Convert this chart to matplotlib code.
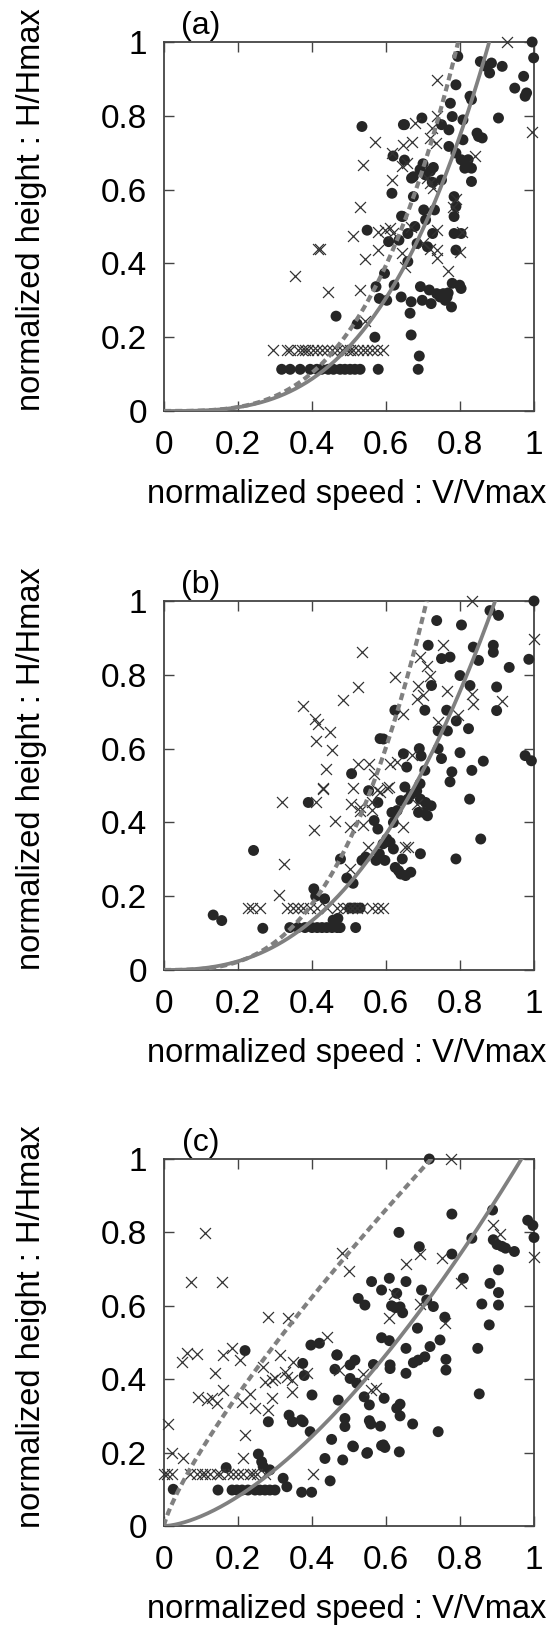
import matplotlib
matplotlib.use("Agg")
import matplotlib.pyplot as plt
import numpy as np

plt.rcParams['font.family'] = ['Liberation Sans', 'DejaVu Sans']

# ---------------- data ----------------
tick_vals = [0, 0.2, 0.4, 0.6, 0.8, 1]
tick_labels = ["0", "0.2", "0.4", "0.6", "0.8", "1"]
panel_labels = ["(a)", "(b)", "(c)"]
xlabel = "normalized speed : V/Vmax"
ylabel = "normalized height : H/Hmax"

# fitted curves: y = (x / x_at_one) ** exponent
solid_x_at_one = [0.879, 0.895, 0.966]
solid_exp = [3.1, 2.5, 1.6]
dashed_x_at_one = [0.795, 0.71, 0.722]
dashed_exp = [3.3, 3.0, 0.8]

# ---- panel (a) ----
a_dot_x = [0.318,0.341,0.368,0.395,0.413,0.426,0.444,0.458,0.476,0.489,0.503,0.516,0.530,0.579,0.687,
           0.690,0.465,0.668,0.570,0.522,0.665,
           0.535,0.549,0.573,0.582,0.602,0.596,0.607,0.616,0.619,0.622,0.635,0.641,0.650,0.650,0.645,0.659,
           0.668,0.674,0.674,0.659,0.678,0.684,0.697,0.693,0.698,0.702,0.707,0.712,0.717,0.722,0.726,0.731,
           0.737,0.746,0.750,0.750,0.755,0.765,0.770,0.770,0.774,0.777,0.779,0.784,0.789,0.784,0.784,0.789,
           0.779,0.789,0.789,0.794,0.799,0.803,0.803,0.803,0.808,0.808,0.813,0.822,0.831,0.831,0.827,0.831,
           0.846,0.850,0.860,0.855,0.870,0.880,0.885,0.904,0.914,0.948,0.972,0.976,0.980,0.995,0.999,
           0.706,0.720,0.728,0.700,0.725,0.760,0.768,0.647,0.669,0.692,0.642]
a_dot_y = [0.113,0.113,0.113,0.113,0.113,0.113,0.113,0.113,0.113,0.113,0.113,0.113,0.113,0.113,0.113,
           0.149,0.257,0.206,0.200,0.236,0.265,
           0.771,0.490,0.337,0.305,0.300,0.373,0.459,0.590,0.691,0.341,0.463,0.309,0.776,0.680,0.527,0.481,
           0.296,0.635,0.581,0.405,0.500,0.454,0.794,0.337,0.300,0.545,0.518,0.445,0.328,0.291,0.481,0.545,
           0.318,0.309,0.626,0.776,0.318,0.309,0.762,0.717,0.834,0.282,0.346,0.581,0.554,0.527,0.481,0.436,
           0.798,0.699,0.884,0.961,0.341,0.332,0.481,0.681,0.789,0.735,0.658,0.681,0.658,0.622,0.853,0.844,
           0.753,0.744,0.740,0.947,0.934,0.916,0.943,0.794,0.934,0.875,0.907,0.853,0.862,1.000,0.957,
           0.640,0.650,0.660,0.670,0.620,0.300,0.320,0.776,0.631,0.654,0.528]
a_cross_x = [0.295,0.332,0.341,0.363,0.372,0.381,0.390,0.404,0.413,0.426,0.440,0.453,0.467,0.480,0.494,
             0.503,0.512,0.525,0.539,0.548,0.561,0.575,0.593,
             0.354,0.417,0.422,0.444,0.512,0.530,0.543,0.543,0.530,0.539,0.570,0.579,0.597,0.611,0.620,
             0.579,0.615,0.615,0.642,0.656,0.647,0.669,0.642,0.650,0.678,0.710,0.719,0.728,0.720,0.736,
             0.723,0.737,0.737,0.737,0.737,0.737,0.720,0.768,0.800,0.805,0.782,0.790,0.841,0.928,0.995,
             0.700,0.668]
a_cross_y = [0.165]*23 + [
             0.366,0.440,0.440,0.322,0.474,0.328,0.412,0.245,0.554,0.668,0.729,0.486,0.490,0.495,0.482,
             0.436,0.627,0.699,0.663,0.672,0.722,0.729,0.427,0.390,0.780,0.631,0.618,0.604,0.740,0.727,
             0.767,0.799,0.898,0.490,0.436,0.414,0.440,0.380,0.432,0.486,0.554,0.575,0.690,1.000,0.757,
             0.455,0.500]

# ---- panel (b) ----
b_dot_x = [1.000,0.904,0.881,0.737,0.804,0.714,0.750,0.773,0.836,0.850,0.890,0.890,0.933,0.986,0.800,
           0.723,0.827,0.899,0.705,0.624,0.764,0.899,0.790,0.766,0.741,0.823,0.584,0.593,0.690,0.695,
           0.741,0.750,0.800,0.863,0.976,0.993,0.647,0.656,0.705,0.832,0.507,0.778,0.773,0.651,0.692,
           0.553,0.578,0.640,0.630,0.659,0.668,0.683,0.693,0.722,0.707,0.688,0.702,0.712,0.826,0.390,
           0.616,0.620,0.568,0.578,0.693,0.856,0.789,0.242,0.477,0.535,0.545,0.573,0.582,0.597,0.592,
           0.602,0.611,0.620,0.625,0.634,0.644,0.640,0.653,0.667,0.494,0.511,0.405,0.410,0.434,0.133,
           0.156,0.267,
           0.340,0.362,0.381,0.400,0.414,0.427,0.440,0.454,0.468,0.476,0.518,0.457,0.470,0.530,0.516,0.503]
b_dot_y = [1.000,0.961,0.974,0.947,0.935,0.880,0.844,0.848,0.875,0.839,0.880,0.861,0.820,0.842,0.798,
           0.771,0.771,0.767,0.704,0.704,0.704,0.703,0.675,0.648,0.648,0.654,0.627,0.626,0.600,0.580,
           0.600,0.573,0.589,0.566,0.581,0.567,0.586,0.550,0.541,0.541,0.532,0.537,0.510,0.496,0.505,
           0.486,0.454,0.459,0.432,0.463,0.476,0.485,0.463,0.445,0.454,0.427,0.427,0.418,0.463,0.454,
           0.427,0.400,0.405,0.382,0.315,0.355,0.301,0.324,0.301,0.297,0.306,0.297,0.315,0.297,0.342,
           0.355,0.346,0.328,0.278,0.269,0.301,0.260,0.256,0.265,0.249,0.235,0.220,0.200,0.193,0.149,
           0.134,0.113,
           0.115,0.115,0.115,0.115,0.115,0.115,0.115,0.115,0.115,0.115,0.115,0.135,0.140,0.168,0.168,0.168]
b_cross_x = [0.227,0.238,0.260,0.332,0.349,0.362,0.376,0.395,0.413,0.440,0.468,0.484,0.497,0.508,0.521,
             0.535,0.562,0.578,0.592,
             0.311,0.324,0.406,0.462,0.318,0.411,0.429,0.510,0.505,0.503,0.530,0.539,0.561,0.575,0.584,
             0.602,0.550,0.503,0.647,0.651,0.832,1.000,0.534,0.755,0.692,0.710,0.719,0.624,0.525,0.485,
             0.687,0.701,0.683,0.764,0.832,0.836,0.913,0.376,0.407,0.416,0.411,0.449,0.453,0.439,0.430,
             0.525,0.553,0.611,0.669,0.741,0.795,0.683,0.607,0.568,0.563,0.530,0.659,0.647,0.629]
b_cross_y = [0.168]*19 + [
             0.203,0.286,0.379,0.404,0.454,0.454,0.494,0.494,0.451,0.388,0.442,0.392,0.433,0.487,0.483,
             0.492,0.334,0.275,0.388,0.332,1.000,0.896,0.862,0.880,0.848,0.825,0.798,0.794,0.767,0.731,
             0.771,0.744,0.735,0.757,0.749,0.722,0.728,0.716,0.680,0.666,0.621,0.645,0.595,0.545,0.491,
             0.559,0.558,0.558,0.582,0.672,0.690,0.450,0.495,0.531,0.454,0.432,0.333,0.695,0.564]

# ---- panel (c) ----
c_dot_x = [0.717,0.778,0.888,0.983,0.997,1.000,0.635,0.690,0.778,0.832,0.890,0.900,0.913,0.923,0.947,
           0.904,0.525,0.543,0.561,0.588,0.609,0.629,0.654,0.696,0.710,0.728,0.809,0.881,0.904,0.904,
           0.859,0.615,0.625,0.638,0.645,0.685,0.588,0.609,0.759,0.746,0.719,0.879,0.848,0.852,0.705,
           0.687,0.674,0.762,0.762,0.654,0.654,0.611,0.611,0.566,0.397,0.420,0.375,0.379,0.468,0.462,
           0.503,0.516,0.503,0.521,0.471,0.400,0.541,0.555,0.595,0.629,0.638,0.638,0.338,0.347,0.371,
           0.376,0.282,0.395,0.489,0.489,0.555,0.559,0.585,0.672,0.741,0.453,0.510,0.550,0.588,0.597,
           0.636,0.435,0.483,0.449,0.219,0.255,0.264,0.268,0.286,0.322,0.332,
           0.146,0.184,0.197,0.211,0.227,0.246,0.259,0.273,0.286,0.300,0.372,0.399,0.168,0.025,0.467,
           0.512,0.548,0.593]
c_dot_y = [1.000,0.850,0.861,0.833,0.819,0.786,0.800,0.761,0.741,0.784,0.780,0.767,0.762,0.757,0.748,
           0.698,0.620,0.602,0.666,0.643,0.675,0.634,0.666,0.643,0.616,0.598,0.675,0.661,0.636,0.602,
           0.605,0.600,0.595,0.597,0.581,0.539,0.513,0.505,0.569,0.507,0.489,0.548,0.484,0.360,0.461,
           0.452,0.445,0.454,0.425,0.484,0.416,0.439,0.429,0.440,0.493,0.498,0.443,0.410,0.466,0.427,
           0.439,0.452,0.402,0.389,0.343,0.357,0.352,0.330,0.348,0.321,0.332,0.300,0.302,0.284,0.289,
           0.284,0.284,0.257,0.293,0.271,0.287,0.278,0.272,0.278,0.257,0.236,0.218,0.200,0.219,0.214,
           0.202,0.184,0.180,0.123,0.478,0.196,0.175,0.162,0.153,0.130,0.107,
           0.098,0.098,0.098,0.098,0.098,0.098,0.098,0.098,0.098,0.098,0.092,0.092,0.159,0.100,0.466,
           0.216,0.198,0.221]
c_cross_x = [0.000,0.007,0.021,0.070,0.088,0.102,0.111,0.124,0.142,0.151,0.174,0.187,0.201,0.214,0.232,
             0.241,0.250,0.273,
             0.775,0.112,0.074,0.158,0.012,0.021,0.052,0.048,0.061,0.088,0.160,0.183,0.205,0.138,0.093,
             0.115,0.129,0.142,0.160,0.219,0.214,0.210,0.232,0.246,0.268,0.273,0.291,0.300,0.314,0.327,
             0.332,0.345,0.349,0.345,0.291,0.282,0.386,0.402,0.440,0.281,0.336,0.482,0.501,0.539,0.559,
             0.573,0.607,0.621,0.655,0.693,0.693,0.750,0.759,0.803,0.890,0.909,1.000,0.472]
c_cross_y = [0.143]*18 + [
             1.000,0.798,0.664,0.664,0.277,0.200,0.184,0.448,0.471,0.469,0.466,0.484,0.452,0.416,0.352,
             0.343,0.348,0.334,0.371,0.248,0.184,0.339,0.361,0.321,0.434,0.393,0.398,0.402,0.466,0.420,
             0.407,0.398,0.448,0.366,0.348,0.316,0.416,0.142,0.516,0.570,0.567,0.743,0.695,0.414,0.371,
             0.376,0.567,0.633,0.714,0.740,0.605,0.729,0.552,0.662,0.819,0.795,0.733,0.424]

dots_x = [a_dot_x, b_dot_x, c_dot_x]
dots_y = [a_dot_y, b_dot_y, c_dot_y]
cross_x = [a_cross_x, b_cross_x, c_cross_x]
cross_y = [a_cross_y, b_cross_y, c_cross_y]

# ---------------- layout ----------------
W, H = 555, 1629
fig = plt.figure(figsize=(W / 100, H / 100), dpi=100)

ax_left, ax_right = 164, 534
ax_tops = [42, 601, 1159]
ax_bots = [411, 970, 1526]

spine_col = '#444444'
curve_col = '#808080'

for i in range(3):
    top, bot = ax_tops[i], ax_bots[i]
    ax = fig.add_axes([ax_left / W, 1 - bot / H, (ax_right - ax_left) / W, (bot - top) / H])
    ax.set_xlim(0, 1)
    ax.set_ylim(0, 1)

    xs = np.linspace(0, 1, 400)
    ax.plot(xs, (xs / solid_x_at_one[i]) ** solid_exp[i], color=curve_col, lw=2.7,
            solid_capstyle='butt', zorder=4)
    ax.plot(xs, (xs / dashed_x_at_one[i]) ** dashed_exp[i], color=curve_col, lw=3.0,
            dashes=(1.7, 1.0), zorder=4)

    ax.scatter(dots_x[i], dots_y[i], s=62, marker='o', color='#262626', edgecolors='none',
               zorder=3, clip_on=False)
    ax.scatter(cross_x[i], cross_y[i], s=62, marker='x', color='#333333', linewidths=0.9,
               zorder=3, clip_on=False)

    ax.set_xticks(tick_vals)
    ax.set_yticks(tick_vals)
    ax.set_xticklabels(tick_labels)
    ax.set_yticklabels(tick_labels)
    ax.tick_params(direction='in', length=7.5, width=1.0, color=spine_col, top=True, right=True,
                   labelsize=24, pad=14)
    ax.tick_params(axis='y', pad=12)
    for sp in ax.spines.values():
        sp.set_color(spine_col)
        sp.set_linewidth(1.3)

    ax.text(0.1, 1 + 16 / (bot - top), panel_labels[i], transform=ax.transAxes,
            ha='center', va='center', fontsize=23)

    # axis labels
    fig.text(347 / W, 1 - (bot + 92) / H, xlabel, ha='center', va='baseline', fontsize=23.5)
    fig.text(32 / W, 1 - (top + 168) / H, ylabel, ha='center', va='center', rotation=90, fontsize=23.5)

fig.savefig("out.png", dpi=100)
